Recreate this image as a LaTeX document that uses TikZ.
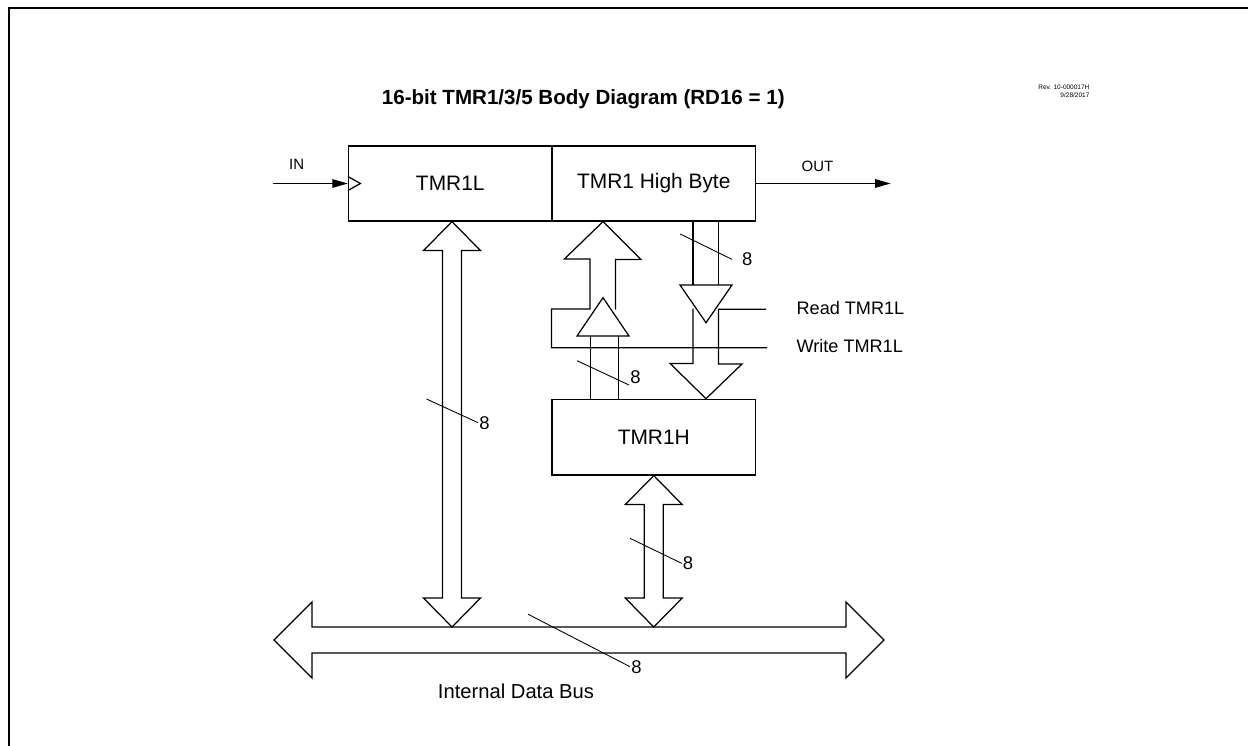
\documentclass[tikz,border=0pt]{standalone}
\usepackage{fontspec}
\setmainfont{Liberation Sans}
\usepackage{tikz}
\usetikzlibrary{arrows.meta,calc}
\newcommand{\busarrow}[2]{%
  \draw (#1) -- ++(-28.5,29) -- ++(19,0) -- ($(#2)+(-9.5,-29)$) -- ++(-19,0) -- (#2)
    -- ++(28.5,-29) -- ++(-19,0) -- ($(#1)+(9.5,29)$) -- ++(19,0) -- cycle;}

\begin{document}
\begin{tikzpicture}[x=0.02cm,y=-0.02cm,line width=0.7pt,
  regbox/.style={draw,minimum width=4.07cm,minimum height=1.5cm,inner sep=0pt,
    font=\fontsize{11.9}{14}\selectfont},
  lbl/.style={font=\fontsize{10.3}{12}\selectfont,anchor=base west,inner sep=0pt},
  pin/.style={font=\fontsize{8.5}{10}\selectfont,anchor=base,inner sep=0pt},
  digit/.style={font=\fontsize{10.5}{12}\selectfont,inner sep=0.5pt},
  tip/.style={-{Triangle[length=8.8pt,width=4.8pt]}}]
  \useasboundingbox (0,0) rectangle (1248,746);
  \draw[line width=1.4pt] (1248,8) -- (9,8) -- (9,746);
  \node[font=\bfseries\fontsize{11.7}{14}\selectfont,anchor=base] (title) at (583.3,104.3) {16-bit TMR1/3/5 Body Diagram (RD16 = 1)};
  \node[font=\fontsize{3.7}{4.5}\selectfont,align=right,anchor=north east,inner sep=0pt] (rev) at (1090,84) {Rev. 10-000017H\\9/28/2017};

  \node[regbox] (tmrl) at (450.25,183.5) {TMR1L};
  \node[regbox] (thb) at (653.75,183.5) {TMR1 High Byte};
  \node[regbox,minimum height=1.514cm] (tmrh) at (653.75,437.15) {TMR1H};

  \coordinate (in) at (272.7,183.5);
  \coordinate (out) at (890.7,183.5);
  \draw[tip] (in) -- (tmrl.west);
  \draw[tip] (thb.east) -- (out);
  \draw (tmrl.west) ++(0,-7) -- ++(12.5,7) -- ++(-12.5,7);
  \node[pin] (inlbl) at (296.7,169.3) {IN};
  \node[pin] (outlbl) at (817.5,171.7) {OUT};

  \coordinate (busL) at (274,640);
  \coordinate (busR) at (884,640);
  \draw (busL) -- ++(38,-38) -- ++(0,25) -- ($(busR)+(-38,-13)$) -- ++(0,-25) -- (busR)
    -- ++(-38,38) -- ++(0,-25) -- ($(busL)+(38,13)$) -- ++(0,25) -- cycle;
  \node[font=\fontsize{11.5}{14}\selectfont,anchor=base,inner sep=0pt] (buslbl) at (516,698.3) {Internal Data Bus};

  \coordinate (tapL) at (452,627);
  \coordinate (topL) at (tapL |- tmrl.south);
  \coordinate (tapH) at (tmrh.south |- tapL);
  \busarrow{topL}{tapL}
  \busarrow{tmrh.south}{tapH}

  \coordinate (wr) at (767,347.7);
  \coordinate (rd) at (766,309.3);
  \coordinate (upTip) at (603,0 |- thb.south);
  \coordinate (dnTip) at (706,0 |- tmrh.north);
  \draw (wr) -- (thb.south west |- wr) -- ++(0,-38.7) -- ++(38.5,0) -- ++(0,-50) -- ++(-25.5,0)
    -- (upTip) -- ++(38,38) -- ++(-25.5,0) -- ++(0,50);
  \draw (603,297.7) -- ++(26,38.3) -- ++(-52,0) -- cycle;
  \draw (590.5,336) -- (590.5,0 |- tmrh.north);
  \draw (618.5,336) -- (618.5,0 |- tmrh.north);
  \draw (693,0 |- thb.south) -- (693,285);
  \draw (718.4,0 |- thb.south) -- (718.4,285);
  \draw (680,285) -- (732,285) -- (706,322.7) -- cycle;
  \draw (rd) -- (718.4,309.3) -- ++(0,54.7) -- ++(23.6,0) -- (dnTip) -- ++(-36,-35.3) -- ++(23,0) -- ++(0,-54.7);
  \node[lbl] (rdlbl) at (796,315) {Read TMR1L};
  \node[lbl] (wrlbl) at (796,352.7) {Write TMR1L};

  \draw[line width=0.5pt] (426.5,399) -- ++(51.5,23.7) node[digit,anchor=west] (w8a) {8};
  \draw[line width=0.5pt] (577,360.7) -- ++(52,24.3) node[digit,anchor=south west] (w8b) {8};
  \draw[line width=0.5pt] (680.2,234) -- ++(51.7,25.3) node[digit,anchor=west,xshift=5pt] (w8c) {8};
  \draw[line width=0.5pt] (630,538.3) -- ++(51.6,25) node[digit,anchor=west] (w8d) {8};
  \draw[line width=0.5pt] (528.2,614.3) -- ++(101.8,52.4) node[digit,anchor=west] (w8e) {8};
\end{tikzpicture}
\end{document}
